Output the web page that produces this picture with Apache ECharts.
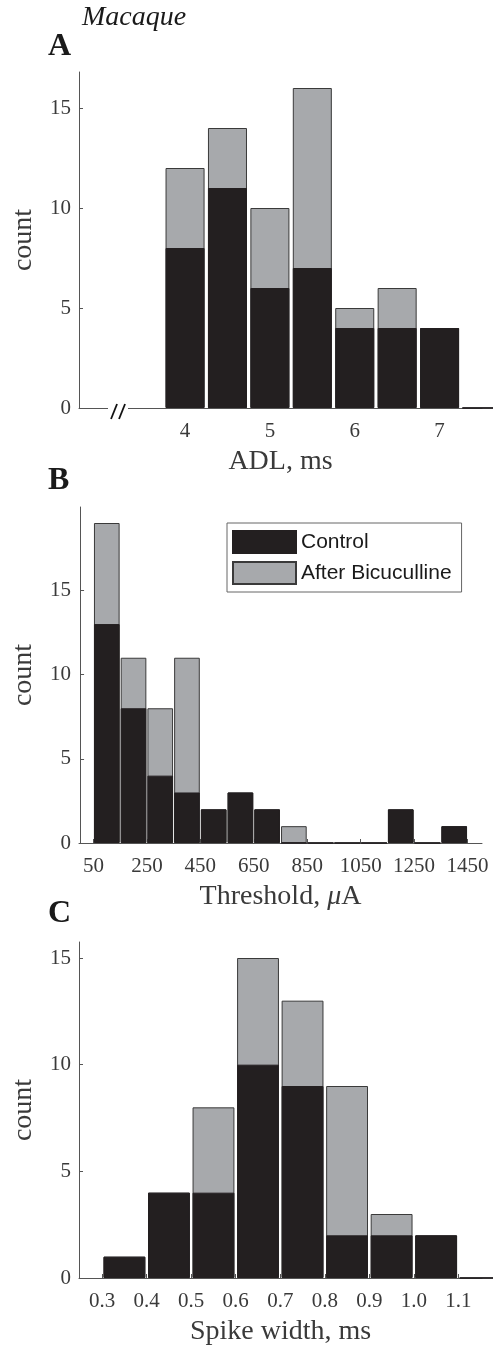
<!DOCTYPE html>
<html><head><meta charset="utf-8">
<script src="https://cdn.jsdelivr.net/npm/echarts@6/dist/echarts.min.js"></script>
<style>html,body{margin:0;padding:0;background:#fff}#c{width:493px;height:1348px}</style>
</head><body><div id="c"></div>
<script>
// Panel A: ADL, ms (bin centers, 0.5 ms bins)
const binsA = [4, 4.5, 5, 5.5, 6, 6.5, 7, 7.5];
const controlA = [8, 11, 6, 7, 4, 4, 4, 0];
const afterA = [4, 3, 4, 9, 1, 2, 0, 0];
const ticksA = [4, 5, 6, 7];
// Panel B: Threshold, uA (bin centers, 100 uA bins)
const binsB = [100, 200, 300, 400, 500, 600, 700, 800, 900, 1000, 1100, 1200, 1300, 1400];
const controlB = [13, 8, 4, 3, 2, 3, 2, 0, 0, 0, 0, 2, 0, 1];
const afterB = [6, 3, 4, 8, 0, 0, 0, 1, 0, 0, 0, 0, 0, 0];
const ticksB = [50, 250, 450, 650, 850, 1050, 1250, 1450];
// Panel C: Spike width, ms (bin centers, 0.1 ms bins)
const binsC = [0.35, 0.45, 0.55, 0.65, 0.75, 0.85, 0.95, 1.05, 1.15];
const controlC = [1, 4, 4, 10, 9, 2, 2, 2, 0];
const afterC = [0, 0, 4, 5, 4, 7, 1, 0, 0];
const ticksC = [0.3, 0.4, 0.5, 0.6, 0.7, 0.8, 0.9, 1.0, 1.1];
const yTicks = [0, 5, 10, 15];

const SERIF = "'Liberation Serif', 'Times New Roman', serif";
const SANS = "'Liberation Sans', Arial, sans-serif";
const BLACK = '#231f20', GRAY = '#a7a9ac', AXIS = '#555555', TXT = '#3a3a3a';

const grids = [
  {left: 79, right: 11, top: 72, height: 336},
  {left: 79, right: 11, top: 507, height: 336},
  {left: 79, right: 11, top: 942, height: 336}
];

function xAx(i, min, max, ticks, fmt, name) {
  return {
    type: 'value', gridIndex: i, min: min, max: max,
    name: name, nameLocation: 'middle', nameGap: 40,
    nameTextStyle: {fontFamily: SERIF, fontSize: 28, color: TXT,
      rich: {i: {fontFamily: SERIF, fontStyle: 'italic', fontSize: 28, color: TXT}}},
    axisLine: {show: true, lineStyle: {color: AXIS, width: 1}},
    axisTick: {show: true, inside: true, length: 4, customValues: ticks, lineStyle: {color: AXIS}},
    axisLabel: {show: true, customValues: ticks, formatter: fmt, margin: 13,
      fontFamily: SERIF, fontSize: 21, color: TXT},
    splitLine: {show: false}
  };
}
function yAx(i, max) {
  return {
    type: 'value', gridIndex: i, min: 0, max: max,
    name: 'count', nameLocation: 'middle', nameGap: 41,
    nameTextStyle: {fontFamily: SERIF, fontSize: 28, color: TXT},
    axisLine: {show: true, lineStyle: {color: AXIS, width: 1}},
    axisTick: {show: true, inside: true, length: 4, customValues: yTicks, lineStyle: {color: AXIS}},
    axisLabel: {show: true, customValues: yTicks, margin: 8,
      fontFamily: SERIF, fontSize: 21, color: TXT},
    splitLine: {show: false}
  };
}
// gray bar reaches control + after; black control bar drawn over it
function barPair(i, bins, ctrl, aft, width) {
  return [
    {name: 'After Bicuculline', type: 'bar', xAxisIndex: i, yAxisIndex: i,
      barWidth: width, barGap: '-100%', silent: true,
      data: bins.map((b, k) => [b, ctrl[k] + aft[k]]),
      itemStyle: {color: GRAY, borderColor: '#3a3a3a', borderWidth: 1}},
    {name: 'Control', type: 'bar', xAxisIndex: i, yAxisIndex: i,
      barWidth: width, barGap: '-100%', silent: true,
      data: bins.map((b, k) => [b, ctrl[k]]),
      itemStyle: {color: BLACK, borderColor: BLACK, borderWidth: 1}}
  ];
}

const chart = echarts.init(document.getElementById('c'), null, {renderer: 'canvas'});
const option = {
  animation: false,
  backgroundColor: '#ffffff',
  grid: grids,
  xAxis: [
    xAx(0, 2.75, 7.5, ticksA, v => String(v), 'ADL, ms'),
    xAx(1, -4, 1504, ticksB, v => String(v), 'Threshold, {i|μ}A'),
    xAx(2, 0.248, 1.153, ticksC, v => Number(v).toFixed(1), 'Spike width, ms')
  ],
  yAxis: [yAx(0, 16.8), yAx(1, 19.95), yAx(2, 15.75)],
  legend: {
    data: ['Control', 'After Bicuculline'],
    orient: 'vertical', left: 227, top: 523,
    padding: [7, 10, 7, 5], itemGap: 7, itemWidth: 63, itemHeight: 22,
    icon: 'rect', selectedMode: false,
    borderColor: '#666666', borderWidth: 1, backgroundColor: '#ffffff',
    textStyle: {fontFamily: SANS, fontSize: 21, color: '#1a1a1a'}
  },
  series: [].concat(
    barPair(0, binsA, controlA, afterA, '92%'),
    barPair(1, binsB, controlB, afterB, '96%'),
    barPair(2, binsC, controlC, afterC, '94%')
  ),
  graphic: [
    {type: 'text', left: 82, top: 4, style: {text: 'Macaque', font: 'italic 28px ' + SERIF, fill: '#1a1a1a'}},
    {type: 'text', left: 48, top: 31, style: {text: 'A', font: 'bold 32px ' + SERIF, fill: '#1a1a1a'}},
    {type: 'text', left: 48, top: 465, style: {text: 'B', font: 'bold 32px ' + SERIF, fill: '#1a1a1a'}},
    {type: 'text', left: 48, top: 898, style: {text: 'C', font: 'bold 32px ' + SERIF, fill: '#1a1a1a'}}
  ]
};
chart.setOption(option);

// axis break mark on panel A
const bp = chart.convertToPixel({gridIndex: 0}, [3.21, 0]);
chart.setOption({graphic: option.graphic.concat([
  {type: 'rect', shape: {x: bp[0] - 10, y: bp[1] - 2, width: 20, height: 4}, style: {fill: '#ffffff'}, z: 100},
  {type: 'line', shape: {x1: bp[0] - 7, y1: bp[1] + 11, x2: bp[0] - 1, y2: bp[1] - 4}, style: {stroke: '#111', lineWidth: 1.8}, z: 101},
  {type: 'line', shape: {x1: bp[0] + 1, y1: bp[1] + 11, x2: bp[0] + 7, y2: bp[1] - 4}, style: {stroke: '#111', lineWidth: 1.8}, z: 101}
])});
</script>
</body></html>
